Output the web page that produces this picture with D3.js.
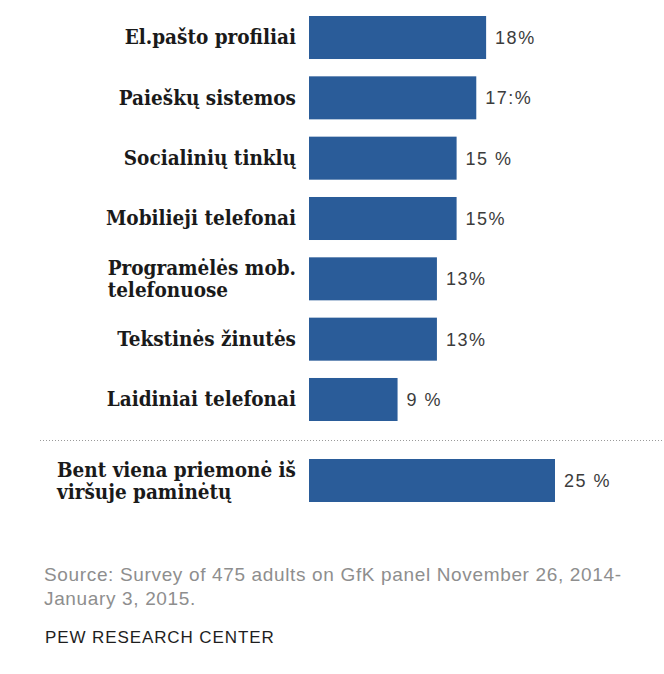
<!DOCTYPE html>
<html>
<head>
<meta charset="utf-8">
<script src="https://cdn.jsdelivr.net/npm/d3@7"></script>
<style>
  html, body { margin: 0; padding: 0; background: #ffffff; }
  svg { display: block; }
  .cat { font-family: "DejaVu Serif Condensed", "DejaVu Serif", serif; font-stretch: condensed; font-weight: bold; font-size: 20.5px; fill: #1a1a1a; }
  .val { font-family: "Liberation Sans", Arial, sans-serif; font-size: 18px; fill: #3c3c3c; letter-spacing: 1.5px; }
  .src { font-family: "Liberation Sans", Arial, sans-serif; font-size: 19px; fill: #8e8e8e; letter-spacing: 0.65px; }
  .org { font-family: "Liberation Sans", Arial, sans-serif; font-size: 17px; fill: #1e1e1e; letter-spacing: 0.9px; }
</style>
</head>
<body>
<svg id="chart" width="664" height="674"></svg>
<script>
// Categories (line breaks mark two-line labels)
const categories = [
  "El.pašto profiliai",
  "Paieškų sistemos",
  "Socialinių tinklų",
  "Mobilieji telefonai",
  "Programėlės mob.\ntelefonuose",
  "Tekstinės žinutės",
  "Laidiniai telefonai"
];
// Share of respondents, %
const values = [18, 17, 15, 15, 13, 13, 9];
// Label suffixes as printed after each number
const suffixes = ["%", ":%", " %", "%", "%", "%", " %"];

// Summary row below the divider
const totalCategory = "Bent viena priemonė iš\nviršuje paminėtų";
const totalValue = 25;
const totalSuffix = " %";

const sourceLines = [
  "Source: Survey of 475 adults on GfK panel November 26, 2014-",
  "January 3, 2015."
];
const orgName = "PEW RESEARCH CENTER";

const barColor = "#2a5c99";
const labelRight = 296;

const svg = d3.select("#chart");

const x = d3.scaleLinear().domain([0, 25]).range([309, 555]);

const y = d3.scaleBand()
  .domain(categories)
  .range([16, 421])
  .paddingInner(0.287)
  .paddingOuter(0);

const yTotal = d3.scaleBand()
  .domain([totalCategory])
  .range([459, 502]);

function drawRow(g, cat, value, suffix, scaleY) {
  const top = scaleY(cat);
  const h = scaleY.bandwidth();
  const cy = top + h / 2;

  g.append("rect")
    .attr("x", x(0))
    .attr("y", top)
    .attr("width", x(value) - x(0))
    .attr("height", h)
    .attr("fill", barColor);

  g.append("text")
    .attr("class", "val")
    .attr("x", x(value) + 9)
    .attr("y", cy)
    .attr("dy", "0.36em")
    .text(value + suffix);

  const lines = cat.split("\n");
  if (lines.length === 1) {
    g.append("text")
      .attr("class", "cat")
      .attr("x", labelRight)
      .attr("y", cy)
      .attr("dy", "0.33em")
      .attr("text-anchor", "end")
      .text(lines[0]);
  } else {
    // Two-line block: left-aligned lines, block right edge at labelRight
    const t = g.append("text")
      .attr("class", "cat")
      .attr("y", cy - 4);
    lines.forEach((ln, i) => {
      t.append("tspan")
        .attr("dy", i === 0 ? 0 : 22)
        .text(ln);
    });
    const w = d3.max(t.selectAll("tspan").nodes(), n => n.getComputedTextLength());
    t.selectAll("tspan").attr("x", labelRight - w);
  }
}

const rows = svg.append("g");
categories.forEach((c, i) => drawRow(rows.append("g"), c, values[i], suffixes[i], y));

// Dotted divider
svg.append("line")
  .attr("x1", 40).attr("x2", 664)
  .attr("y1", 440.5).attr("y2", 440.5)
  .attr("stroke", "#9a9a9a")
  .attr("stroke-width", 1)
  .attr("stroke-dasharray", "1,2");

drawRow(svg.append("g"), totalCategory, totalValue, totalSuffix, yTotal);

// Source note
const src = svg.append("text").attr("class", "src").attr("x", 44).attr("y", 581);
sourceLines.forEach((ln, i) => {
  src.append("tspan").attr("x", 44).attr("dy", i === 0 ? 0 : 24).text(ln);
});

svg.append("text")
  .attr("class", "org")
  .attr("x", 45)
  .attr("y", 643)
  .text(orgName);
</script>
</body>
</html>
